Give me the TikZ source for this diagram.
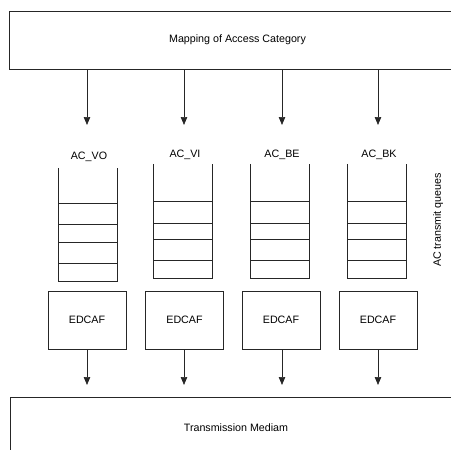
\documentclass[tikz,border=0pt]{standalone}
\usepackage{fontspec}
\setmainfont{Liberation Sans}
\usetikzlibrary{arrows.meta}
\begin{document}
\begin{tikzpicture}[x=1pt,y=-1pt,
  ln/.style={draw=black!85, line width=0.7pt},
  arr/.style={ln, -{Triangle[length=8pt,width=6.5pt]}},
  txt/.style={font=\fontsize{10.7}{12}\selectfont},
  bigbox/.style={ln, txt, inner sep=0pt},
  edcafbox/.style={ln, txt, inner sep=0pt, minimum width=78pt, minimum height=58pt},
  qbox/.style={inner sep=0pt, minimum width=58.5pt}]
\useasboundingbox (0,0) rectangle (451,450);
\clip (0,0) rectangle (451,450);

% top and bottom boxes
\node[bigbox, minimum width=456pt, minimum height=58pt] (map) at (237.5,40) {Mapping of Access Category};
\node[bigbox, minimum width=452pt, minimum height=62pt] (med) at (236,428) {Transmission Mediam};

% queue labels
\node[txt, inner sep=0pt] (lvo) at (89,157) {AC\_VO};
\node[txt, inner sep=0pt] (lvi) at (185,155) {AC\_VI};
\node[txt, inner sep=0pt] (lbe) at (282,155) {AC\_BE};
\node[txt, inner sep=0pt] (lbk) at (379,155) {AC\_BK};

\node[txt, inner sep=0pt, rotate=90] (side) at (438,220) {AC transmit queues};

% arrow ends above the queues
\coordinate (avo) at (87,125);
\coordinate (avi) at (184,125);
\coordinate (abe) at (282,125);
\coordinate (abk) at (378,125);
\foreach \a in {avo,avi,abe,abk}{
  \draw[arr] (map.south -| \a) -- (\a);
}

% queues
\node[qbox, minimum height=113pt] (qvo) at (87.5,224.5) {};
\node[qbox, minimum height=114pt] (qvi) at (182.5,221) {};
\node[qbox, minimum height=114pt] (qbe) at (280,221) {};
\node[qbox, minimum height=114pt] (qbk) at (377,221) {};
\foreach \q in {qvo,qvi,qbe,qbk}{
  \draw[ln] (\q.north west) -- (\q.south west) -- (\q.south east) -- (\q.north east);
}
\foreach \y in {203,224,242,263}{
  \draw[ln] (qvo.west |- 0,\y) -- (qvo.east |- 0,\y);
}
\foreach \q in {qvi,qbe,qbk}{
  \foreach \y in {201,223,239,260}{
    \draw[ln] (\q.west |- 0,\y) -- (\q.east |- 0,\y);
  }
}

% EDCAF boxes
\node[edcafbox] (e1) at (87,320) {EDCAF};
\node[edcafbox] (e2) at (184.5,320) {EDCAF};
\node[edcafbox] (e3) at (281,320) {EDCAF};
\node[edcafbox] (e4) at (378,320) {EDCAF};

\coordinate (b1) at (87,385);
\coordinate (b2) at (184,385);
\coordinate (b3) at (282,385);
\coordinate (b4) at (378,385);
\draw[arr] (e1.south -| b1) -- (b1);
\draw[arr] (e2.south -| b2) -- (b2);
\draw[arr] (e3.south -| b3) -- (b3);
\draw[arr] (e4.south -| b4) -- (b4);
\end{tikzpicture}
\end{document}
